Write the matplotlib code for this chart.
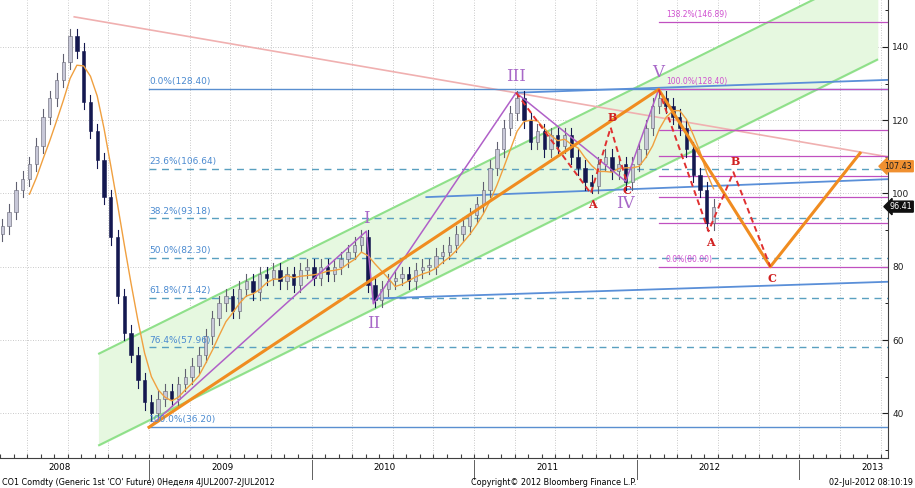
import matplotlib
matplotlib.use("Agg")
import matplotlib.pyplot as plt
import matplotlib.transforms as mtr
import numpy as np
import pandas as pd

# ---- data ----
start = 2008.098
step = 1/24
closes = [91,95,101,104,108,113,121,126,131,136,143,139,125,117,109,99,88,72,62,56,49,43,40,44,46,44,48,50,53,56,
          61,66,70,72,68,74,76,73,78,77,79,76,78,75,79,80,77,80,78,80,82,84,86,88,75,71,74,76,77,78,
          76,79,80,80,83,84,86,89,91,94,97,101,107,112,118,122,126,120,114,117,112,116,113,116,110,107,103,102,108,110,
          106,108,103,108,112,118,124,126,124,121,118,112,105,101,92,96.41]
years = [2008, 2009, 2010, 2011, 2012, 2013]

fib_levels = [128.40, 106.64, 93.18, 82.30, 71.42, 57.96, 36.20]
fib_labels = ["0.0%(128.40)", "23.6%(106.64)", "38.2%(93.18)", "50.0%(82.30)", "61.8%(71.42)", "76.4%(57.96)", "100.0%(36.20)"]
proj_levels = [146.89, 128.40, 117.4, 110.1, 104.7, 99.0, 91.9, 80.0]
proj_labels = {146.89: "138.2%(146.89)", 128.40: "100.0%(128.40)", 80.0: "0.0%(80.00)"}

pink_x, pink_y = [2008.540, 2013.546], [148.2, 110.0]
chan_x = [2008.693, 2013.479]
chan_low = [31.3, 136.5]
chan_up = [56.3, 161.5]
blue_lines = [([2011.258, 2013.546], [127.5, 131.0]),
              ([2010.706, 2013.546], [99.0, 103.9]),
              ([2010.368, 2013.546], [71.3, 75.9])]
orange_x = [2009.0, 2012.135, 2012.822, 2013.374]
orange_y = [36.2, 128.4, 80.0, 111.0]
wave_x = [2009.0, 2010.337, 2010.380, 2011.258, 2011.933, 2012.135]
wave_y = [36.2, 89.7, 69.9, 127.5, 103.3, 128.4]
wave_labels = ["I", "II", "III", "IV", "V"]
abc1_x = [2011.258, 2011.718, 2011.840, 2011.933]
abc1_y = [127.5, 100.0, 118.0, 103.9]
abc2_x = [2012.135, 2012.442, 2012.595, 2012.822]
abc2_y = [128.4, 89.7, 105.8, 80.0]
tag_values = [107.43, 96.41]

fig = plt.figure(figsize=(9.15, 4.88), dpi=100)
ax = fig.add_axes([0, 30/488, 888/915, 458/488])
xmin, xmax = 2008.098, 2013.546
ax.set_xlim(xmin, xmax)
ax.set_ylim(27.8, 152.8)

# grid
for gx in np.arange(2008.25, 2013.6, 0.25):
    ax.axvline(gx, color="#b8b8b8", lw=0.6, ls=(0, (1, 2)), zorder=0)
for gy in range(40, 151, 20):
    ax.axhline(gy, color="#b8b8b8", lw=0.6, ls=(0, (1, 2)), zorder=0)

# channel
ax.fill_between(chan_x, chan_low, chan_up, color="#e6f8e0", zorder=1)
ax.plot(chan_x, chan_low, color="#8fe08a", lw=1.5, zorder=2)
ax.plot(chan_x, chan_up, color="#8fe08a", lw=1.5, zorder=2)

ax.plot(pink_x, pink_y, color="#f0b0b0", lw=1.2, zorder=2)

# fib levels
for lv, lb in zip(fib_levels, fib_labels):
    solid = lb.startswith("0.0") or lb.startswith("100")
    ax.plot([2009.0, xmax], [lv, lv], color="#5a8fd0" if solid else "#5aa0c0",
            lw=1.0, ls="-" if solid else (0, (5, 4)), zorder=2)
    ax.text(2009.0, lv + 0.8, lb, color="#4a8ad0", fontsize=6.5, va="bottom", ha="left", zorder=5)
for lv in proj_levels:
    ax.plot([2012.135, xmax], [lv, lv], color="#c050c0", lw=0.9, zorder=2)
    if lv in proj_labels:
        ax.text(2012.18, lv + 0.8, proj_labels[lv], color="#d050d0", fontsize=5.5, va="bottom", zorder=5)

for bx, by in blue_lines:
    ax.plot(bx, by, color="#5a8fd8", lw=1.3, zorder=2)

# candles
xs = start + np.arange(len(closes)) * step
opens = [closes[0] - 2] + closes[:-1]
for x, o, c in zip(xs, opens, closes):
    up = c >= o
    lo, hi = min(o, c), max(o, c)
    col = "#c8c8d8" if up else "#141850"
    ax.plot([x, x], [lo - 2, hi + 2], color="#606070" if up else "#141850", lw=0.8, zorder=3)
    ax.bar(x, max(hi - lo, 0.4), bottom=lo, width=step * 0.5, color=col,
           edgecolor="#606070" if up else "#141850", lw=0.4, zorder=3)

ma = pd.Series(closes).rolling(5).mean()
ax.plot(xs, ma, color="#f0a040", lw=1.0, zorder=4)

# waves
ax.plot(wave_x, wave_y, color="#b060c8", lw=1.1, zorder=4)
offs = [3.5, -5.5, 4.5, -6, 4.5]
for wx, wy, wl, of in zip(wave_x[1:], wave_y[1:], wave_labels, offs):
    ax.text(wx, wy + of, wl, color="#a868c8", fontsize=12, family="DejaVu Serif",
            ha="center", va="center", zorder=6)
ax.plot(orange_x, orange_y, color="#f08c20", lw=2.2, zorder=4)
for axx, ayy in [(abc1_x, abc1_y), (abc2_x, abc2_y)]:
    ax.plot(axx, ayy, color="#e03030", lw=1.4, ls=(0, (3, 2)), zorder=5)
    for lx, ly, t, of in zip(axx[1:], ayy[1:], "ABC", [-3, 2.8, -3.2]):
        ax.text(lx + 0.01, ly + of, t, color="#d02020", fontsize=8, weight="bold",
                family="DejaVu Serif", ha="center", va="center", zorder=6)

# axes styling
for s in ["top", "left"]:
    ax.spines[s].set_visible(False)
ax.spines["right"].set_color("#404040")
ax.spines["bottom"].set_color("#404040")
ax.yaxis.tick_right()
ax.set_yticks(range(40, 141, 20))
ax.set_yticks(range(30, 151, 10), minor=True)
ax.tick_params(axis="y", labelsize=6.5, colors="#202020", direction="in", length=4, pad=3)
ax.tick_params(axis="y", which="minor", direction="in", length=2)
ax.set_xticks(np.arange(2008.0833, 2013.55, 1/12))
ax.set_xticklabels([])
ax.tick_params(axis="x", direction="in", length=3, colors="#404040")

trans = mtr.blended_transform_factory(ax.transData, ax.transAxes)
for yr in years:
    ax.text(yr + 0.5 - 0.05, -0.012, str(yr), transform=trans, fontsize=6.3, ha="center", va="top", clip_on=False)
    if yr > 2008:
        ax.plot([yr, yr], [-0.005, -0.045], transform=trans, color="#606060", lw=0.7, clip_on=False)

# price tags
tagtrans = mtr.blended_transform_factory(fig.transFigure, ax.transData)
for val, fc, tc in zip(tag_values, ["#f09030", "#101010"], ["#202020", "white"]):
    ax.text(0.997, val, f"{val:.2f}", transform=tagtrans,
            fontsize=5.8, color=tc, va="center", ha="right", clip_on=False, zorder=10,
            bbox=dict(boxstyle="larrow,pad=0.12", fc=fc, ec=fc))

fig.text(0.002, 0.003, "CO1 Comdty (Generic 1st 'CO' Future) 0Неделя 4JUL2007-2JUL2012", fontsize=5.8, va="bottom")
fig.text(0.515, 0.003, "Copyright© 2012 Bloomberg Finance L.P.", fontsize=5.8, va="bottom")
fig.text(0.998, 0.003, "02-Jul-2012 08:10:19", fontsize=5.8, va="bottom", ha="right")

fig.savefig("out.png", dpi=100, facecolor="white")
